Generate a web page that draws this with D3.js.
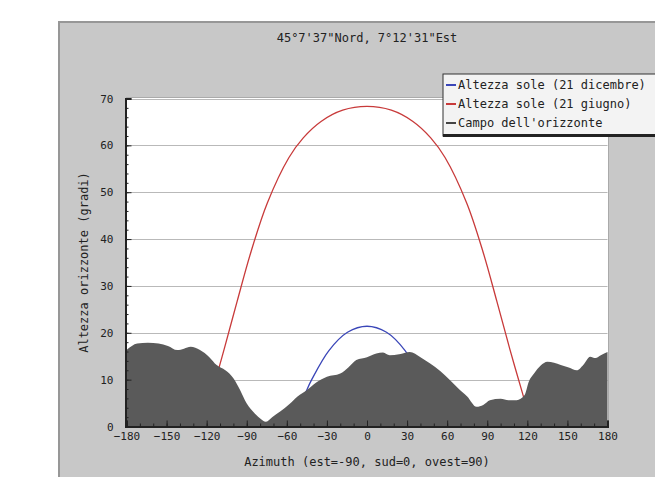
<!DOCTYPE html>
<html>
<head>
<meta charset="utf-8">
<script src="https://cdn.jsdelivr.net/npm/d3@7"></script>
<style>
  body { margin: 0; background: #fff; }
  text { font-family: "DejaVu Sans Mono", monospace; font-size: 12px; fill: #222; }
</style>
</head>
<body>
<div id="viz"></div>
<script>
// Horizon profile (azimuth, altitude in degrees)
const horizonAz  = [-180, -172, -164, -156, -149, -142, -137, -132, -125, -118, -112.5, -106, -100, -95, -90, -84, -79, -76, -71, -65, -58, -52, -45, -38, -30, -20, -14, -8, 0, 7, 12, 17, 24, 32, 40, 47, 55, 62, 68, 75, 82, 87, 92, 100, 106, 112, 118, 121, 125, 130, 135, 140, 145, 151, 157, 162, 167, 171, 175, 180];
const horizonAlt = [16.3, 17.7, 17.9, 17.7, 17.2, 16.3, 16.6, 17.0, 16.3, 14.8, 13.1, 12.0, 10.3, 7.8, 4.9, 2.8, 1.5, 1.0, 2.0, 3.2, 4.8, 6.4, 7.8, 9.4, 10.6, 11.3, 12.6, 14.2, 14.8, 15.6, 15.8, 15.2, 15.4, 15.9, 14.8, 13.5, 11.8, 9.9, 8.2, 6.4, 4.2, 4.6, 5.6, 5.9, 5.6, 5.6, 6.7, 9.5, 11.3, 13.0, 13.8, 13.6, 13.1, 12.6, 12.0, 13.2, 14.9, 14.6, 15.2, 15.9];

// Sun path, 21 December
const decAz  = [-52.7, -45.2, -41.2, -28.5, -14.6, 0, 14.6, 28.5, 41.2];
const decAlt = [2.4, 7.7, 10.1, 16.2, 20.1, 21.4, 20.1, 16.2, 10.1];

// Sun path, 21 June
const junAz  = [-111.6, -107, -97.2, -86.8, -74.6, -58.4, -47.7, -34.4, -18.2, 0, 18.2, 34.4, 47.7, 58.4, 74.6, 86.8, 97.2, 107, 116.9, 118.2];
const junAlt = [11.7, 16.4, 26.7, 37.3, 47.7, 57.4, 61.6, 65.1, 67.5, 68.3, 67.5, 65.1, 61.6, 57.4, 47.7, 37.3, 26.7, 16.4, 6.6, 5.3];

const xTicks = [-180, -150, -120, -90, -60, -30, 0, 30, 60, 90, 120, 150, 180];
const yTicks = [0, 10, 20, 30, 40, 50, 60, 70];

const title = "45°7'37\"Nord, 7°12'31\"Est";
const xLabel = "Azimuth (est=-90, sud=0, ovest=90)";
const yLabel = "Altezza orizzonte (gradi)";
const legendLabels = ["Altezza sole (21 dicembre)", "Altezza sole (21 giugno)", "Campo dell'orizzonte"];
const legendColors = ["#3a46b8", "#c83a3a", "#444"];

const W = 655, H = 477;
const plot = {left: 126.5, right: 607.5, top: 98.5, bottom: 426.5};

const svg = d3.select("#viz")
    .append("svg")
        .attr("width", W)
        .attr("height", H);

// outer grey panel
svg.append("rect")
    .attr("x", 59).attr("y", 22)
    .attr("width", 610).attr("height", 470)
    .attr("fill", "#c8c8c8")
    .attr("stroke", "#979797")
    .attr("stroke-width", 2);

const x = d3.scaleLinear().domain([-180, 180]).range([plot.left, plot.right]);
const y = d3.scaleLinear().domain([0, 70]).range([plot.bottom, plot.top]);

// plot background
svg.append("rect")
    .attr("x", plot.left).attr("y", plot.top - 1)
    .attr("width", plot.right - plot.left + 1).attr("height", plot.bottom - plot.top + 1)
    .attr("fill", "#fff")
    .attr("stroke", "#aaa");

// horizontal grid
svg.append("g")
    .selectAll("line")
    .data(yTicks.slice(1))
    .join("line")
        .attr("x1", plot.left).attr("x2", plot.right)
        .attr("y1", d => Math.round(y(d)) + 0.5).attr("y2", d => Math.round(y(d)) + 0.5)
        .attr("stroke", "#b9b9b9");

// sun lines
const line = d3.line()
    .x(d => x(d[0]))
    .y(d => y(d[1]))
    .curve(d3.curveCatmullRom);

svg.append("path")
    .datum(decAz.map((a, i) => [a, decAlt[i]]))
    .attr("fill", "none")
    .attr("stroke", legendColors[0])
    .attr("stroke-width", 1.3)
    .attr("d", line);

svg.append("path")
    .datum(junAz.map((a, i) => [a, junAlt[i]]))
    .attr("fill", "none")
    .attr("stroke", legendColors[1])
    .attr("stroke-width", 1.3)
    .attr("d", line);

// horizon (drawn on top, hides the sun below it)
svg.append("path")
    .datum(horizonAz.map((a, i) => [a, horizonAlt[i]]))
    .attr("fill", "#5a5a5a")
    .attr("d", d3.area()
        .x(d => x(d[0]))
        .y0(y(0))
        .y1(d => y(d[1]))
        .curve(d3.curveMonotoneX));

// axes
const yAxis = svg.append("g")
    .attr("transform", `translate(${plot.left - 1},0)`)
    .call(d3.axisLeft(y).tickValues(yTicks).tickSize(-6).tickPadding(12));
svg.append("g")
    .attr("transform", `translate(${plot.left - 1},0)`)
    .call(d3.axisLeft(y).ticks(35).tickSize(-3).tickFormat(""))
    .call(g => g.select(".domain").remove());

const xAxis = svg.append("g")
    .attr("transform", `translate(0,${plot.bottom})`)
    .call(d3.axisBottom(x).tickValues(xTicks).tickSize(-6).tickPadding(6));
svg.append("g")
    .attr("transform", `translate(0,${plot.bottom})`)
    .call(d3.axisBottom(x).ticks(36).tickSize(-3).tickFormat(""))
    .call(g => g.select(".domain").remove());

svg.selectAll(".domain").attr("stroke", "#222").attr("stroke-width", 2);
svg.selectAll(".tick line").attr("stroke", "#222");
svg.selectAll(".tick text").style("font-family", "DejaVu Sans Mono").style("font-size", "11px").attr("fill", "#222");

// title + axis labels
svg.append("text")
    .attr("x", (plot.left + plot.right) / 2)
    .attr("y", 42)
    .attr("text-anchor", "middle")
    .text(title);

svg.append("text")
    .attr("x", (plot.left + plot.right) / 2)
    .attr("y", 466)
    .attr("text-anchor", "middle")
    .text(xLabel);

svg.append("text")
    .attr("transform", `translate(88,${(plot.top + plot.bottom) / 2}) rotate(-90)`)
    .attr("text-anchor", "middle")
    .text(yLabel);

// legend
const legend = svg.append("g");
legend.append("rect")
    .attr("x", 443).attr("y", 74)
    .attr("width", 240).attr("height", 62)
    .attr("fill", "#f3f3f3")
    .attr("stroke", "#333");
legend.append("rect")
    .attr("x", 443).attr("y", 134)
    .attr("width", 240).attr("height", 3)
    .attr("fill", "#222");

const item = legend.selectAll("g.item")
    .data(legendLabels)
    .join("g")
        .attr("class", "item")
        .attr("transform", (d, i) => `translate(0,${85 + i * 19})`);
item.append("line")
    .attr("x1", 446).attr("x2", 456)
    .attr("stroke", (d, i) => legendColors[i])
    .attr("stroke-width", 2);
item.append("text")
    .attr("x", 458)
    .attr("dy", "0.35em")
    .text(d => d);
</script>
</body>
</html>
